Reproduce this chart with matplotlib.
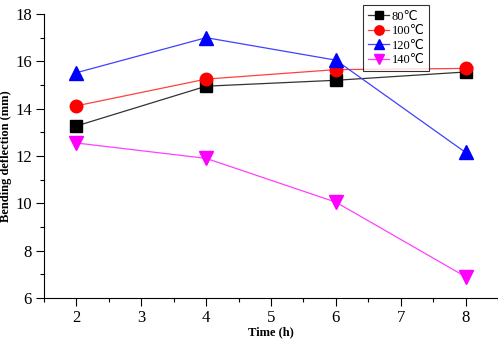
import matplotlib
matplotlib.use('Agg')
import matplotlib.pyplot as plt

# Data
time_h = [2, 4, 6, 8]
defl_80 = [13.27, 14.95, 15.2, 15.55]
defl_100 = [14.12, 15.25, 15.65, 15.7]
defl_120 = [15.52, 17.0, 16.05, 12.15]
defl_140 = [12.55, 11.9, 10.05, 6.9]
labels = ['80℃', '100℃', '120℃', '140℃']

plt.rcParams['font.family'] = ['Liberation Serif', 'DejaVu Sans']

fig = plt.figure(figsize=(4.98, 3.4), dpi=100)
ax = fig.add_axes([0.0884, 0.1235, 0.9116, 0.8353])

ax.plot(time_h, defl_80, color='#333333', lw=0.9, marker='s', ms=8.5, mfc='black', mec='black', label=labels[0])
ax.plot(time_h, defl_100, color='#ff4040', lw=0.9, marker='o', ms=9, mfc='red', mec='red', label=labels[1])
ax.plot(time_h, defl_120, color='#4040ff', lw=0.9, marker='^', ms=9.5, mfc='blue', mec='blue', label=labels[2])
ax.plot(time_h, defl_140, color='#ff40ff', lw=0.9, marker='v', ms=9.5, mfc='magenta', mec='magenta', label=labels[3])

ax.set_xlim(1.5, 8.5)
ax.set_ylim(6, 18)
ax.set_xticks([2, 3, 4, 5, 6, 7, 8])
ax.set_xticks([1.5, 2.5, 3.5, 4.5, 5.5, 6.5, 7.5, 8.5], minor=True)
ax.set_yticks([6, 8, 10, 12, 14, 16, 18])
ax.set_yticks([7, 9, 11, 13, 15, 17], minor=True)
ax.tick_params(which='major', direction='out', length=5.8, width=0.8, labelsize=12, pad=3)
ax.tick_params(which='minor', direction='out', length=3, width=0.8)
ax.spines['top'].set_visible(False)
ax.spines['right'].set_visible(False)

ax.set_xlabel('Time (h)', fontsize=9, fontweight='bold')
ax.xaxis.set_label_coords(0.5, -0.1)
ax.set_ylabel('Bending deflection (mm)', fontsize=9, fontweight='bold')
ax.yaxis.set_label_coords(-0.071, 0.5)

leg = ax.legend(loc='upper left', bbox_to_anchor=(0.7026, 1.03), fontsize=9, frameon=True,
                fancybox=False, edgecolor='black', handlelength=1.7, handletextpad=0.2,
                borderpad=0.4, borderaxespad=0, labelspacing=0.2, markerscale=0.75)
leg.get_frame().set_linewidth(0.8)

plt.savefig('out.png', dpi=100)
